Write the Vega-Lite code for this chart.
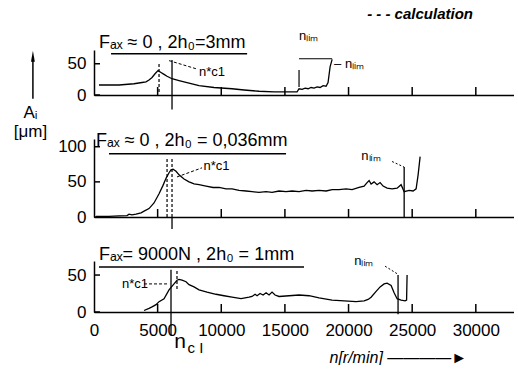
{
  "$schema": "https://vega.github.io/schema/vega-lite/v6.json",
  "background": "white",
  "autosize": "pad",
  "padding": {"left": 13, "top": 6, "right": 0, "bottom": 0},
  "config": {
    "view": {"stroke": null},
    "font": "Liberation Sans",
    "axis": {"domainColor": "black", "domainWidth": 1.5, "ticks": false, "grid": false, "labelColor": "black", "labelFontSize": 17, "titleColor": "black"}
  },
  "datasets": {
    "xticks": [{"t": 5000}, {"t": 10000}, {"t": 15000}, {"t": 20000}, {"t": 25000}, {"t": 30000}],
    "yticks": [{"v": 0}, {"v": 50}, {"v": 100}],
    "top": [
      {"n": 393, "A": 16}, {"n": 1180, "A": 16}, {"n": 1965, "A": 16}, {"n": 3144, "A": 18}, {"n": 3773, "A": 20},
      {"n": 4087, "A": 21}, {"n": 4323, "A": 24}, {"n": 4560, "A": 28}, {"n": 4795, "A": 34}, {"n": 5030, "A": 39},
      {"n": 5266, "A": 36}, {"n": 5502, "A": 33}, {"n": 5738, "A": 30}, {"n": 6131, "A": 26}, {"n": 6681, "A": 23},
      {"n": 7467, "A": 19}, {"n": 8253, "A": 15}, {"n": 9432, "A": 12}, {"n": 10847, "A": 10}, {"n": 11790, "A": 8},
      {"n": 12969, "A": 6}, {"n": 14148, "A": 5}, {"n": 15327, "A": 5}, {"n": 15956, "A": 5}, {"n": 16113, "A": 10},
      {"n": 16350, "A": 9}, {"n": 16585, "A": 11}, {"n": 16820, "A": 10}, {"n": 17056, "A": 12}, {"n": 17292, "A": 11},
      {"n": 17528, "A": 13}, {"n": 17763, "A": 12}, {"n": 17999, "A": 15}, {"n": 18235, "A": 14}, {"n": 18390, "A": 20},
      {"n": 18550, "A": 45}, {"n": 18710, "A": 57}
    ],
    "mid": [
      {"n": 157, "A": 1}, {"n": 1180, "A": 1}, {"n": 1965, "A": 1.5}, {"n": 2594, "A": 2}, {"n": 2751, "A": 4},
      {"n": 2987, "A": 3}, {"n": 3300, "A": 4}, {"n": 3694, "A": 6}, {"n": 4009, "A": 9}, {"n": 4323, "A": 12},
      {"n": 4716, "A": 20}, {"n": 5110, "A": 33}, {"n": 5423, "A": 45}, {"n": 5659, "A": 55}, {"n": 5895, "A": 63},
      {"n": 6052, "A": 67}, {"n": 6210, "A": 68}, {"n": 6445, "A": 65}, {"n": 6681, "A": 60}, {"n": 7074, "A": 54},
      {"n": 7467, "A": 50}, {"n": 7860, "A": 47}, {"n": 8253, "A": 46}, {"n": 8803, "A": 44}, {"n": 9353, "A": 42},
      {"n": 9825, "A": 42}, {"n": 10375, "A": 40}, {"n": 10847, "A": 40}, {"n": 11397, "A": 38}, {"n": 11947, "A": 37},
      {"n": 12419, "A": 36}, {"n": 12969, "A": 35}, {"n": 13519, "A": 36}, {"n": 13990, "A": 35}, {"n": 14541, "A": 37},
      {"n": 15091, "A": 36}, {"n": 15563, "A": 37}, {"n": 16113, "A": 36}, {"n": 16663, "A": 38}, {"n": 17135, "A": 37},
      {"n": 17685, "A": 38}, {"n": 18235, "A": 37}, {"n": 18707, "A": 39}, {"n": 19257, "A": 39}, {"n": 19807, "A": 40},
      {"n": 20279, "A": 39}, {"n": 20829, "A": 42}, {"n": 21222, "A": 44}, {"n": 21458, "A": 49}, {"n": 21615, "A": 52},
      {"n": 21772, "A": 47}, {"n": 22008, "A": 50}, {"n": 22244, "A": 46}, {"n": 22480, "A": 49}, {"n": 22716, "A": 44},
      {"n": 23030, "A": 41}, {"n": 23423, "A": 40}, {"n": 23816, "A": 41}, {"n": 24130, "A": 46}, {"n": 24366, "A": 36},
      {"n": 24759, "A": 38}, {"n": 25073, "A": 37}, {"n": 25309, "A": 40}, {"n": 25466, "A": 60}, {"n": 25624, "A": 86}
    ],
    "bot": [
      {"n": 3930, "A": 2}, {"n": 4323, "A": 5}, {"n": 4560, "A": 7}, {"n": 4873, "A": 10}, {"n": 5110, "A": 14},
      {"n": 5502, "A": 18}, {"n": 5895, "A": 30}, {"n": 6288, "A": 38}, {"n": 6524, "A": 43}, {"n": 6681, "A": 44},
      {"n": 6917, "A": 43}, {"n": 7231, "A": 41}, {"n": 7467, "A": 37}, {"n": 7860, "A": 34}, {"n": 8253, "A": 30},
      {"n": 8882, "A": 27}, {"n": 9589, "A": 24}, {"n": 10218, "A": 22}, {"n": 10847, "A": 20}, {"n": 11554, "A": 18},
      {"n": 12183, "A": 20}, {"n": 12419, "A": 21}, {"n": 12655, "A": 24}, {"n": 12812, "A": 22}, {"n": 13048, "A": 25},
      {"n": 13284, "A": 23}, {"n": 13519, "A": 26}, {"n": 13755, "A": 23}, {"n": 13990, "A": 27}, {"n": 14226, "A": 23},
      {"n": 14541, "A": 21}, {"n": 15327, "A": 22}, {"n": 16113, "A": 23}, {"n": 16899, "A": 22}, {"n": 17685, "A": 19},
      {"n": 18707, "A": 16}, {"n": 19650, "A": 15}, {"n": 20593, "A": 14}, {"n": 21222, "A": 15}, {"n": 21537, "A": 17},
      {"n": 21772, "A": 20}, {"n": 22165, "A": 28}, {"n": 22480, "A": 34}, {"n": 22794, "A": 38}, {"n": 23030, "A": 39},
      {"n": 23344, "A": 36}, {"n": 23580, "A": 26}, {"n": 23816, "A": 18}, {"n": 24130, "A": 16}, {"n": 24445, "A": 15},
      {"n": 24560, "A": 16}, {"n": 24600, "A": 50}
    ]
  },
  "spacing": 44,
  "bounds": "flush",
  "vconcat": [
    {
      "width": 420,
      "height": 45,
      "resolve": {"axis": {"x": "independent", "y": "independent"}},
      "layer": [
        {
          "data": {"name": "top"},
          "mark": {"type": "line", "color": "black", "strokeWidth": 1.3},
          "encoding": {
            "x": {"field": "n", "type": "quantitative", "scale": {"domain": [0, 33000], "nice": false},
                  "axis": {"orient": "bottom", "title": null, "labels": false}},
            "y": {"field": "A", "type": "quantitative", "scale": {"domain": [0, 72], "nice": false},
                  "axis": {"orient": "left", "title": ["Aᵢ", "[μm]"], "titleAngle": 0, "titleX": -64, "titleY": 67, "titleAlign": "center", "titleBaseline": "alphabetic", "titleFontSize": 17, "titleFontWeight": "normal", "titleLineHeight": 19, "values": [0, 50], "labelPadding": 8}}
          }
        },
        {"data": {"name": "xticks"}, "mark": {"type": "rule", "color": "black", "strokeWidth": 1.5},
         "encoding": {"x": {"field": "t", "type": "quantitative", "axis": null}, "y": {"datum": 0, "type": "quantitative", "axis": null}, "y2": {"datum": 12.8}}},
        {"data": {"name": "yticks"}, "transform": [{"filter": "datum.v <= 72"}], "mark": {"type": "rule", "color": "black", "strokeWidth": 1.5},
         "encoding": {"y": {"field": "v", "type": "quantitative", "axis": null}, "x": {"datum": 0, "type": "quantitative", "axis": null}, "x2": {"datum": 470}}},
        {"data": {"values": [{}]}, "mark": {"type": "text", "text": "Fₐₓ ≈ 0 , 2h₀=3mm", "align": "left", "baseline": "alphabetic", "fontSize": 18, "color": "black"},
         "encoding": {"x": {"datum": 390, "type": "quantitative", "axis": null}, "y": {"datum": 76, "type": "quantitative", "axis": null}}},
        {"data": {"values": [{}]}, "mark": {"type": "rule", "color": "black", "strokeWidth": 1.5},
         "encoding": {"x": {"datum": -4800, "type": "quantitative", "axis": null}, "y": {"datum": -6, "type": "quantitative", "axis": null}, "y2": {"datum": 58}}},
        {"data": {"values": [{}]}, "mark": {"type": "point", "shape": "M-0.35,1L0,-1L0.35,1Z", "filled": true, "color": "black", "opacity": 1, "size": 120},
         "encoding": {"x": {"datum": -4800, "type": "quantitative", "axis": null}, "y": {"datum": 62, "type": "quantitative", "axis": null}}},
        {"data": {"values": [{}]}, "mark": {"type": "rule", "color": "black", "strokeWidth": 1.5},
         "encoding": {"x": {"datum": 1340, "type": "quantitative", "axis": null}, "x2": {"datum": 12030}, "y": {"datum": 66, "type": "quantitative", "axis": null}}},
        {"data": {"values": [{}]}, "mark": {"type": "text", "text": "- - - calculation", "align": "left", "baseline": "alphabetic", "fontSize": 15, "fontStyle": "italic", "fontWeight": "bold", "color": "black"},
         "encoding": {"x": {"datum": 21460, "type": "quantitative", "axis": null}, "y": {"datum": 122, "type": "quantitative", "axis": null}}},
        {"data": {"values": [{}]}, "mark": {"type": "rule", "color": "black", "strokeWidth": 1.2, "strokeDash": [3, 2]},
         "encoding": {"x": {"datum": 5110, "type": "quantitative", "axis": null}, "y": {"datum": 5, "type": "quantitative", "axis": null}, "y2": {"datum": 53}}},
        {"data": {"values": [{}]}, "mark": {"type": "rule", "color": "black", "strokeWidth": 1.3},
         "encoding": {"x": {"datum": 6130, "type": "quantitative", "axis": null}, "y": {"datum": -23, "type": "quantitative", "axis": null}, "y2": {"datum": 56}}},
        {"data": {"values": [{}]}, "mark": {"type": "rule", "color": "black", "strokeWidth": 1, "strokeDash": [3, 2]},
         "encoding": {"x": {"datum": 5900, "type": "quantitative", "axis": null}, "x2": {"datum": 8020}, "y": {"datum": 55, "type": "quantitative", "axis": null}, "y2": {"datum": 42}}},
        {"data": {"values": [{}]}, "mark": {"type": "text", "text": "n*c1", "align": "left", "baseline": "alphabetic", "fontSize": 13, "color": "black"},
         "encoding": {"x": {"datum": 8250, "type": "quantitative", "axis": null}, "y": {"datum": 30, "type": "quantitative", "axis": null}}},
        {"data": {"values": [{}]}, "mark": {"type": "rule", "color": "black", "strokeWidth": 1.2},
         "encoding": {"x": {"datum": 16110, "type": "quantitative", "axis": null}, "y": {"datum": 13, "type": "quantitative", "axis": null}, "y2": {"datum": 40}}},
        {"data": {"values": [{}]}, "mark": {"type": "rule", "color": "black", "strokeWidth": 1.2},
         "encoding": {"x": {"datum": 16110, "type": "quantitative", "axis": null}, "x2": {"datum": 18710}, "y": {"datum": 58, "type": "quantitative", "axis": null}}},
        {"data": {"values": [{}]}, "mark": {"type": "text", "text": "nₗᵢₘ", "align": "left", "baseline": "alphabetic", "fontSize": 13, "color": "black"},
         "encoding": {"x": {"datum": 16100, "type": "quantitative", "axis": null}, "y": {"datum": 88, "type": "quantitative", "axis": null}}},
        {"data": {"values": [{}]}, "mark": {"type": "text", "text": "– nₗᵢₘ", "align": "left", "baseline": "middle", "fontSize": 13, "color": "black"},
         "encoding": {"x": {"datum": 18860, "type": "quantitative", "axis": null}, "y": {"datum": 50, "type": "quantitative", "axis": null}}}
      ]
    },
    {
      "width": 420,
      "height": 78,
      "resolve": {"axis": {"x": "independent", "y": "independent"}},
      "layer": [
        {
          "data": {"name": "mid"},
          "mark": {"type": "line", "color": "black", "strokeWidth": 1.3},
          "encoding": {
            "x": {"field": "n", "type": "quantitative", "scale": {"domain": [0, 33000], "nice": false},
                  "axis": {"orient": "bottom", "title": null, "labels": false}},
            "y": {"field": "A", "type": "quantitative", "scale": {"domain": [0, 111], "nice": false},
                  "axis": {"orient": "left", "title": null, "values": [0, 50, 100], "labelPadding": 8}}
          }
        },
        {"data": {"name": "xticks"}, "mark": {"type": "rule", "color": "black", "strokeWidth": 1.5},
         "encoding": {"x": {"field": "t", "type": "quantitative", "axis": null}, "y": {"datum": 0, "type": "quantitative", "axis": null}, "y2": {"datum": 11.4}}},
        {"data": {"name": "yticks"}, "mark": {"type": "rule", "color": "black", "strokeWidth": 1.5},
         "encoding": {"y": {"field": "v", "type": "quantitative", "axis": null}, "x": {"datum": 0, "type": "quantitative", "axis": null}, "x2": {"datum": 470}}},
        {"data": {"values": [{}]}, "mark": {"type": "text", "text": "Fₐₓ ≈ 0 ,  2h₀ = 0,036mm", "align": "left", "baseline": "alphabetic", "fontSize": 18, "color": "black"},
         "encoding": {"x": {"datum": 160, "type": "quantitative", "axis": null}, "y": {"datum": 101, "type": "quantitative", "axis": null}}},
        {"data": {"values": [{}]}, "mark": {"type": "rule", "color": "black", "strokeWidth": 1.5},
         "encoding": {"x": {"datum": 1180, "type": "quantitative", "axis": null}, "x2": {"datum": 15090}, "y": {"datum": 90, "type": "quantitative", "axis": null}}},
        {"data": {"values": [{}]}, "mark": {"type": "rule", "color": "black", "strokeWidth": 1.2, "strokeDash": [3, 2]},
         "encoding": {"x": {"datum": 5740, "type": "quantitative", "axis": null}, "y": {"datum": 0, "type": "quantitative", "axis": null}, "y2": {"datum": 83}}},
        {"data": {"values": [{}]}, "mark": {"type": "rule", "color": "black", "strokeWidth": 1.2, "strokeDash": [3, 2]},
         "encoding": {"x": {"datum": 6130, "type": "quantitative", "axis": null}, "y": {"datum": 0, "type": "quantitative", "axis": null}, "y2": {"datum": 83}}},
        {"data": {"values": [{}]}, "mark": {"type": "rule", "color": "black", "strokeWidth": 1.3},
         "encoding": {"x": {"datum": 6130, "type": "quantitative", "axis": null}, "y": {"datum": -17, "type": "quantitative", "axis": null}, "y2": {"datum": 0}}},
        {"data": {"values": [{}]}, "mark": {"type": "rule", "color": "black", "strokeWidth": 1, "strokeDash": [3, 2]},
         "encoding": {"x": {"datum": 6520, "type": "quantitative", "axis": null}, "x2": {"datum": 8490}, "y": {"datum": 57, "type": "quantitative", "axis": null}, "y2": {"datum": 70}}},
        {"data": {"values": [{}]}, "mark": {"type": "text", "text": "n*c1", "align": "left", "baseline": "alphabetic", "fontSize": 13, "color": "black"},
         "encoding": {"x": {"datum": 8600, "type": "quantitative", "axis": null}, "y": {"datum": 67, "type": "quantitative", "axis": null}}},
        {"data": {"values": [{}]}, "mark": {"type": "text", "text": "nₗᵢₘ", "align": "left", "baseline": "alphabetic", "fontSize": 13, "color": "black"},
         "encoding": {"x": {"datum": 21000, "type": "quantitative", "axis": null}, "y": {"datum": 81, "type": "quantitative", "axis": null}}},
        {"data": {"values": [{}]}, "mark": {"type": "rule", "color": "black", "strokeWidth": 1, "strokeDash": [2, 2]},
         "encoding": {"x": {"datum": 23420, "type": "quantitative", "axis": null}, "x2": {"datum": 24370}, "y": {"datum": 79, "type": "quantitative", "axis": null}, "y2": {"datum": 71}}},
        {"data": {"values": [{}]}, "mark": {"type": "rule", "color": "black", "strokeWidth": 1.3},
         "encoding": {"x": {"datum": 24370, "type": "quantitative", "axis": null}, "y": {"datum": 0, "type": "quantitative", "axis": null}, "y2": {"datum": 71}}}
      ]
    },
    {
      "width": 420,
      "height": 51,
      "resolve": {"axis": {"x": "independent", "y": "independent"}},
      "layer": [
        {
          "data": {"name": "bot"},
          "mark": {"type": "line", "color": "black", "strokeWidth": 1.3},
          "encoding": {
            "x": {"field": "n", "type": "quantitative", "scale": {"domain": [0, 33000], "nice": false},
                  "axis": {"orient": "bottom", "title": "n[r/min]    ————►", "titleX": 235, "titleY": 50, "titleAlign": "left", "titleBaseline": "alphabetic", "titleFontSize": 16, "titleFontStyle": "italic", "titleFontWeight": "normal",
                           "labelPadding": 10, "format": "d", "values": [0, 5000, 10000, 15000, 20000, 25000, 30000], "labelFlush": false, "labelOverlap": false}},
            "y": {"field": "A", "type": "quantitative", "scale": {"domain": [0, 69], "nice": false},
                  "axis": {"orient": "left", "title": null, "values": [0, 50], "labelPadding": 8}}
          }
        },
        {"data": {"name": "xticks"}, "mark": {"type": "rule", "color": "black", "strokeWidth": 1.5},
         "encoding": {"x": {"field": "t", "type": "quantitative", "axis": null}, "y": {"datum": 0, "type": "quantitative", "axis": null}, "y2": {"datum": 10.8}}},
        {"data": {"name": "yticks"}, "transform": [{"filter": "datum.v <= 69"}], "mark": {"type": "rule", "color": "black", "strokeWidth": 1.5},
         "encoding": {"y": {"field": "v", "type": "quantitative", "axis": null}, "x": {"datum": 0, "type": "quantitative", "axis": null}, "x2": {"datum": 470}}},
        {"data": {"values": [{}]}, "mark": {"type": "text", "text": "Fₐₓ= 9000N , 2h₀ = 1mm", "align": "left", "baseline": "alphabetic", "fontSize": 18, "color": "black"},
         "encoding": {"x": {"datum": 390, "type": "quantitative", "axis": null}, "y": {"datum": 70, "type": "quantitative", "axis": null}}},
        {"data": {"values": [{}]}, "mark": {"type": "rule", "color": "black", "strokeWidth": 1.5},
         "encoding": {"x": {"datum": 390, "type": "quantitative", "axis": null}, "x2": {"datum": 16500}, "y": {"datum": 61, "type": "quantitative", "axis": null}}},
        {"data": {"values": [{}]}, "mark": {"type": "rule", "color": "black", "strokeWidth": 1.3},
         "encoding": {"x": {"datum": 6050, "type": "quantitative", "axis": null}, "y": {"datum": -31, "type": "quantitative", "axis": null}, "y2": {"datum": 57}}},
        {"data": {"values": [{}]}, "mark": {"type": "rule", "color": "black", "strokeWidth": 1.2, "strokeDash": [3, 2]},
         "encoding": {"x": {"datum": 6520, "type": "quantitative", "axis": null}, "y": {"datum": 31, "type": "quantitative", "axis": null}, "y2": {"datum": 57}}},
        {"data": {"values": [{}]}, "mark": {"type": "rule", "color": "black", "strokeWidth": 1, "strokeDash": [3, 2]},
         "encoding": {"x": {"datum": 3930, "type": "quantitative", "axis": null}, "x2": {"datum": 5900}, "y": {"datum": 38, "type": "quantitative", "axis": null}}},
        {"data": {"values": [{}]}, "mark": {"type": "text", "text": "n*c1", "align": "left", "baseline": "middle", "fontSize": 13, "color": "black"},
         "encoding": {"x": {"datum": 2200, "type": "quantitative", "axis": null}, "y": {"datum": 38, "type": "quantitative", "axis": null}}},
        {"data": {"values": [{}]}, "mark": {"type": "text", "text": "nₗᵢₘ", "align": "left", "baseline": "alphabetic", "fontSize": 13, "color": "black"},
         "encoding": {"x": {"datum": 20440, "type": "quantitative", "axis": null}, "y": {"datum": 63, "type": "quantitative", "axis": null}}},
        {"data": {"values": [{}]}, "mark": {"type": "rule", "color": "black", "strokeWidth": 1, "strokeDash": [2, 2]},
         "encoding": {"x": {"datum": 22870, "type": "quantitative", "axis": null}, "x2": {"datum": 23890}, "y": {"datum": 62, "type": "quantitative", "axis": null}, "y2": {"datum": 51}}},
        {"data": {"values": [{}]}, "mark": {"type": "rule", "color": "black", "strokeWidth": 1.3},
         "encoding": {"x": {"datum": 23890, "type": "quantitative", "axis": null}, "y": {"datum": -3, "type": "quantitative", "axis": null}, "y2": {"datum": 50}}},
        {"data": {"values": [{}]}, "mark": {"type": "text", "text": "n", "align": "left", "baseline": "alphabetic", "fontSize": 21, "color": "black"},
         "encoding": {"x": {"datum": 6300, "type": "quantitative", "axis": null}, "y": {"datum": -49, "type": "quantitative", "axis": null}}},
        {"data": {"values": [{}]}, "mark": {"type": "text", "text": "c I", "align": "left", "baseline": "alphabetic", "fontSize": 15, "color": "black"},
         "encoding": {"x": {"datum": 7350, "type": "quantitative", "axis": null}, "y": {"datum": -55, "type": "quantitative", "axis": null}}}
      ]
    }
  ]
}
